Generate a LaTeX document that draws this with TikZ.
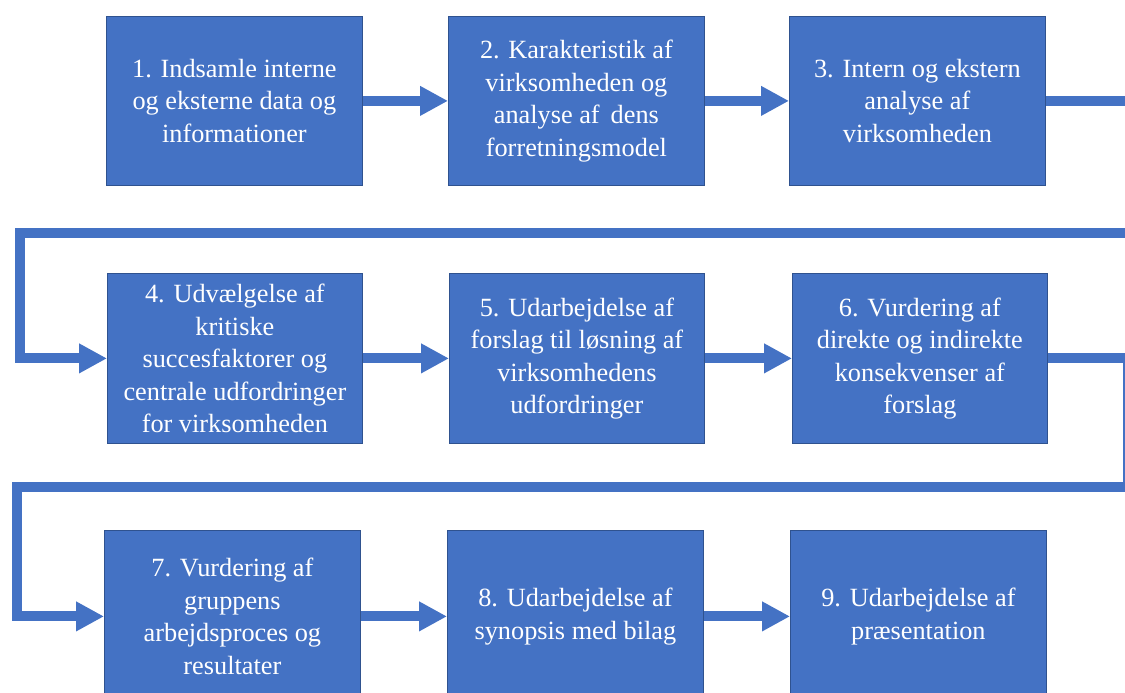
\documentclass[tikz,border=0pt]{standalone}
\usepackage{fontspec}
\setmainfont{Liberation Serif}
\usetikzlibrary{arrows.meta}
\definecolor{boxblue}{HTML}{4472C4}
\definecolor{edgeblue}{HTML}{2F528F}
\begin{document}
\begin{tikzpicture}[x=1pt,y=-1pt,
  stepbox/.style={draw=edgeblue, line width=0.8pt, fill=boxblue, text=white,
    minimum width=256pt, minimum height=169pt, align=center, anchor=north west,
    font=\fontsize{26.3}{32.5}\selectfont, inner sep=0pt},
  flow/.style={draw=boxblue, line width=10pt, line join=miter,
    -{Triangle[width=28pt,length=28pt]}}]
\useasboundingbox (0,0) rectangle (1125,693);
\clip (0,0) rectangle (1125,693);
\node[stepbox] (b1) at (106,16) {1. Indsamle interne\\og eksterne data og\\informationer};
\node[stepbox] (b2) at (448,16) {2. Karakteristik af\\virksomheden og\\analyse af\,\ dens\\forretningsmodel};
\node[stepbox] (b3) at (789,16) {3. Intern og ekstern\\analyse af\\virksomheden};
\node[stepbox, minimum width=255pt, minimum height=170pt] (b4) at (107,273) {4. Udvælgelse af\\kritiske\\succesfaktorer og\\centrale udfordringer\\for virksomheden};
\node[stepbox, minimum width=255pt, minimum height=170pt] (b5) at (449,273) {5. Udarbejdelse af\\forslag til løsning af\\virksomhedens\\udfordringer};
\node[stepbox, minimum width=255pt, minimum height=170pt] (b6) at (792,273) {6. Vurdering af\\direkte og indirekte\\konsekvenser af\\forslag};
\node[stepbox, minimum height=172pt] (b7) at (104,530) {7. Vurdering af\\gruppens\\arbejdsproces og\\resultater};
\node[stepbox, minimum height=172pt] (b8) at (447,530) {8. Udarbejdelse af\\synopsis med bilag};
\node[stepbox, minimum height=172pt] (b9) at (790,530) {9. Udarbejdelse af\\præsentation};
\draw[flow] (b1.east) -- (b2.west);
\draw[flow] (b2.east) -- (b3.west);
\draw[flow] (b4.east) -- (b5.west);
\draw[flow] (b5.east) -- (b6.west);
\draw[flow] (b7.east) -- (b8.west);
\draw[flow] (b8.east) -- (b9.west);
\coordinate (r1) at (1140,233);
\coordinate (l1) at (20,233);
\coordinate (r2) at (1128,487);
\coordinate (l2) at (17,487);
\draw[flow] (b3.east) -- (b3.east -| r1) -- (r1) -- (l1) -- (l1 |- b4.west) -- (b4.west);
\draw[flow] (b6.east) -- (b6.east -| r2) -- (r2) -- (l2) -- (l2 |- b7.west) -- (b7.west);
\end{tikzpicture}
\end{document}
